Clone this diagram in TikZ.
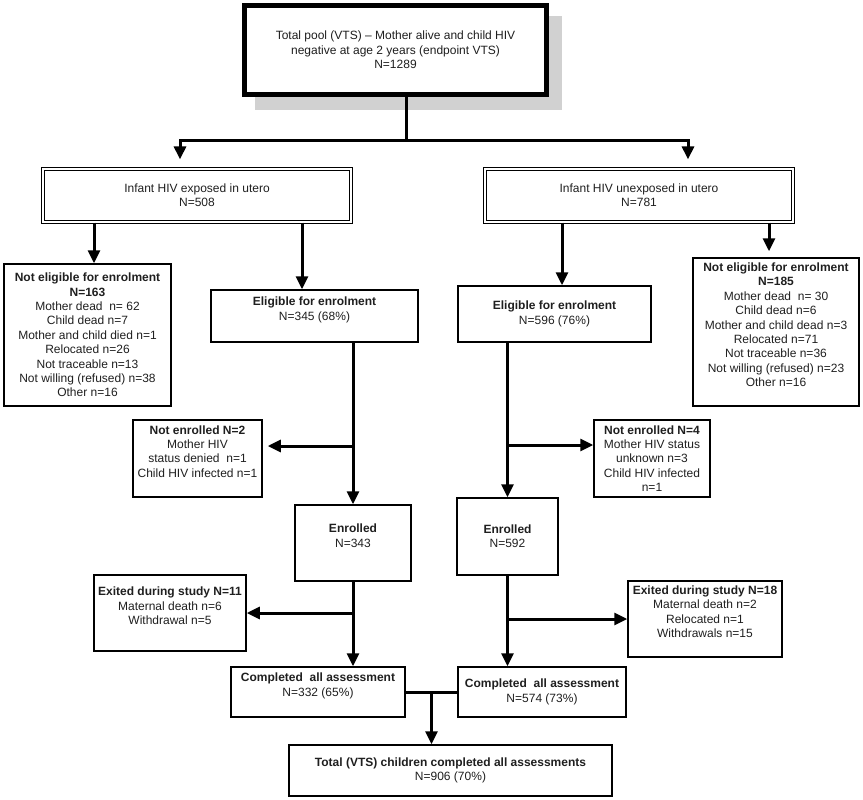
\documentclass[tikz,border=0pt]{standalone}
\usepackage{fontspec}
\setmainfont{Liberation Sans}
\usetikzlibrary{arrows.meta,shadows,calc}

\begin{document}
\begin{tikzpicture}[x=1pt,y=-1pt,->,>={Triangle[length=13pt,width=12pt]},line width=3pt,
  font=\fontsize{12}{14.4}\selectfont]
\tikzstyle{box}=[draw,-,line width=1.5pt,align=center,inner sep=0pt,text=black!88]
\tikzstyle{dbl}=[box,double,double distance=1.4pt,line width=1.2pt]
\useasboundingbox (0,0) rectangle (863,800);

\node[box,line width=5pt,fill=white,minimum width=302pt,minimum height=89pt,
  drop shadow={shadow xshift=13pt,shadow yshift=-13pt,fill=black!18,draw=black!18,opacity=1}]
  (pool) at (395.5,50) {Total pool (VTS) -- Mother alive and child HIV\\negative at age 2 years (endpoint VTS)\\N=1289};
\node[dbl,minimum width=308pt,minimum height=53pt] (expL) at (197,195.5) {Infant HIV exposed in utero\\N=508};
\node[dbl,minimum width=308pt,minimum height=53pt] (expR) at (639,195.5) {Infant HIV unexposed in utero\\N=781};
\node[box,minimum width=167pt,minimum height=142pt] (inelL) at (87.5,335) {\textbf{Not eligible for enrolment}\\\textbf{N=163}\\Mother dead~ n= 62\\Child dead n=7\\Mother and child died n=1\\Relocated n=26\\Not traceable n=13\\Not willing (refused) n=38\\Other n=16};
\node[box,minimum width=207pt,minimum height=52pt] (elL) at (314.5,316) {\textbf{Eligible for enrolment}\\N=345 (68\%)\\\mbox{}};
\node[box,minimum width=193pt,minimum height=56pt] (elR) at (554.5,314) {\textbf{Eligible for enrolment}\\N=596 (76\%)};
\node[box,minimum width=166pt,minimum height=148pt] (inelR) at (776,332) {\textbf{Not eligible for enrolment}\\\textbf{N=185}\\Mother dead~ n= 30\\Child dead n=6\\Mother and child dead n=3\\Relocated n=71\\Not traceable n=36\\Not willing (refused) n=23\\Other n=16\\\mbox{}};
\node[box,minimum width=129pt,minimum height=77pt] (nenL) at (197.5,458.5) {\textbf{Not enrolled N=2}\\Mother HIV\\status denied~ n=1\\Child HIV infected n=1\\\mbox{}};
\node[box,minimum width=116pt,minimum height=77pt] (nenR) at (652,458.5) {\textbf{Not enrolled N=4}\\Mother HIV status\\unknown n=3\\Child HIV infected\\n=1};
\node[box,minimum width=116pt,minimum height=76pt] (enrL) at (353,543) {\textbf{Enrolled}\\N=343\\\mbox{}};
\node[box,minimum width=101pt,minimum height=77pt] (enrR) at (507.5,536.5) {\textbf{Enrolled}\\N=592};
\node[box,minimum width=152pt,minimum height=76pt] (exL) at (170,613) {\textbf{Exited during study N=11}\\Maternal death n=6\\Withdrawal n=5\\\mbox{}};
\node[box,minimum width=154pt,minimum height=76pt] (exR) at (705,619) {\textbf{Exited during study N=18}\\Maternal death n=2\\Relocated n=1\\Withdrawals n=15\\\mbox{}};
\node[box,minimum width=174pt,minimum height=50pt] (cplL) at (318,692) {\textbf{Completed~ all assessment}\\N=332 (65\%)\\\mbox{}};
\node[box,minimum width=168pt,minimum height=50pt] (cplR) at (542,692) {\textbf{Completed~ all assessment}\\N=574 (73\%)};
\node[box,minimum width=323pt,minimum height=51pt] (tot) at (450.5,770.5) {\textbf{Total (VTS) children completed all assessments}\\N=906 (70\%)};

\draw[shorten >=9pt] ([xshift=10.5pt]pool.south) -- ++(0,43) -| ([xshift=-17pt]expL.north);
\draw[shorten >=9pt] ([xshift=10.5pt]pool.south) -- ++(0,43) -| ([xshift=49pt]expR.north);
\draw ([xshift=6.5pt]inelL.north |- expL.south) -- ([xshift=6.5pt]inelL.north);
\draw ([xshift=-12.5pt]elL.north |- expL.south) -- ([xshift=-12.5pt]elL.north);
\draw ([xshift=7.5pt]elR.north |- expR.south) -- ([xshift=7.5pt]elR.north);
\draw[shorten >=6pt] ([xshift=-7pt]inelR.north |- expR.south) -- ([xshift=-7pt]inelR.north);

\draw (elL.south -| enrL.north) -- (enrL.north);
\draw[shorten >=5pt] ([yshift=12.5pt]nenL.east -| enrL.north) -- ([yshift=12.5pt]nenL.east);
\draw (enrL.south) -- (enrL.south |- cplL.north);
\draw (exL.east -| enrL.south) -- (exL.east);

\draw (elR.south -| enrR.north) -- (enrR.north);
\draw ([yshift=13.5pt]nenR.west -| enrR.north) -- ([yshift=13.5pt]nenR.west);
\draw (enrR.south) -- (enrR.south |- cplR.north);
\draw (exR.west -| enrR.south) -- (exR.west);

\draw[-] (cplL.east) -- (cplR.west);
\coordinate (merge) at ($(cplL.east)!.5!(cplR.west)$);
\draw (merge) -- (merge |- tot.north);
\end{tikzpicture}
\end{document}
